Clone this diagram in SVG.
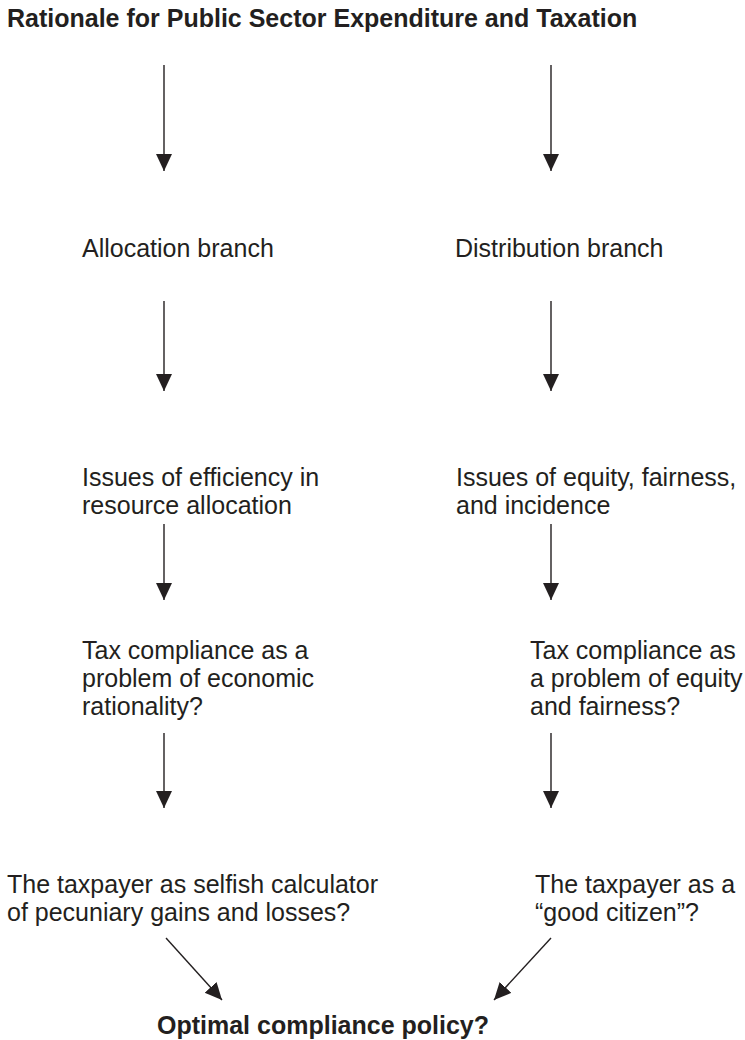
<svg xmlns="http://www.w3.org/2000/svg" width="745" height="1040" viewBox="0 0 745 1040">
  <style>
    .t { font-family: "Liberation Sans", Arial, Helvetica, sans-serif; font-size: 25px; fill: #231f20; }
    .b { font-weight: bold; }
    .c { stroke: #231f20; stroke-width: 1.4; fill: none; marker-end: url(#head); }
  </style>
  <defs>
    <marker id="head" markerUnits="userSpaceOnUse" markerWidth="18" markerHeight="17" refX="17" refY="8" orient="auto" viewBox="0 0 18 17">
      <path d="M0,0 L17,8 L0,16 Z" fill="#231f20"/>
    </marker>
  </defs>

  <rect width="745" height="1040" fill="#ffffff"/>

  <g id="title">
    <text class="t b" x="7" y="27">Rationale for Public Sector Expenditure and Taxation</text>
  </g>

  <g id="allocation-branch">
    <text class="t" x="82" y="257">Allocation branch</text>
  </g>
  <g id="distribution-branch">
    <text class="t" x="455" y="257">Distribution branch</text>
  </g>

  <g id="efficiency-issues">
    <text class="t" x="82" y="486">Issues of efficiency in</text>
    <text class="t" x="82" y="514">resource allocation</text>
  </g>
  <g id="equity-issues">
    <text class="t" x="456" y="486">Issues of equity, fairness,</text>
    <text class="t" x="456" y="514">and incidence</text>
  </g>

  <g id="economic-rationality">
    <text class="t" x="82" y="659">Tax compliance as a</text>
    <text class="t" x="82" y="687">problem of economic</text>
    <text class="t" x="82" y="715">rationality?</text>
  </g>
  <g id="equity-fairness">
    <text class="t" x="530" y="659">Tax compliance as</text>
    <text class="t" x="530" y="687">a problem of equity</text>
    <text class="t" x="530" y="715">and fairness?</text>
  </g>

  <g id="selfish-calculator">
    <text class="t" x="7" y="893">The taxpayer as selfish calculator</text>
    <text class="t" x="7" y="921">of pecuniary gains and losses?</text>
  </g>
  <g id="good-citizen">
    <text class="t" x="535" y="893">The taxpayer as a</text>
    <text class="t" x="535" y="921">“good citizen”?</text>
  </g>

  <g id="optimal-policy">
    <text class="t b" x="157" y="1034">Optimal compliance policy?</text>
  </g>

  <g id="connectors">
    <line class="c" x1="164" y1="65" x2="164" y2="171"/>
    <line class="c" x1="551" y1="65" x2="551" y2="171"/>
    <line class="c" x1="164" y1="301" x2="164" y2="391"/>
    <line class="c" x1="551" y1="301" x2="551" y2="391"/>
    <line class="c" x1="164" y1="524" x2="164" y2="600"/>
    <line class="c" x1="551" y1="524" x2="551" y2="600"/>
    <line class="c" x1="164" y1="733" x2="164" y2="808"/>
    <line class="c" x1="551" y1="733" x2="551" y2="808"/>
    <line class="c" x1="166" y1="938" x2="222" y2="1000"/>
    <line class="c" x1="551" y1="938" x2="494" y2="1000"/>
  </g>
</svg>
